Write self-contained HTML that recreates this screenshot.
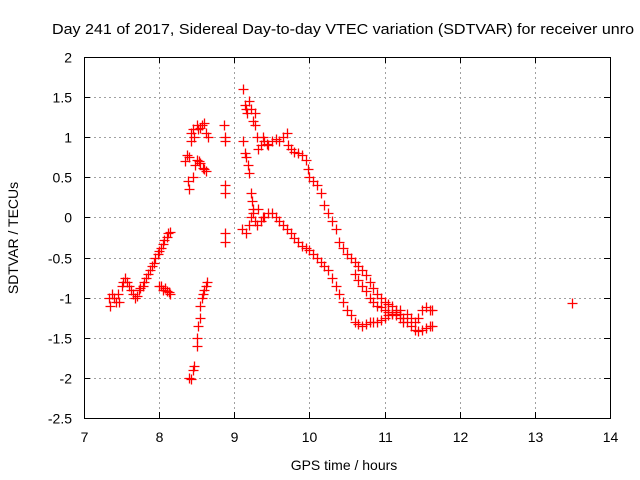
<!DOCTYPE html>
<html><head><meta charset="utf-8"><style>
body{margin:0;background:#fff}
svg{display:block;font-family:"Liberation Sans",sans-serif}
</style></head><body>
<svg id="chart" width="640" height="480">
<rect width="640" height="480" fill="#fff"/>
<text x="52" y="34" font-size="15" textLength="582" lengthAdjust="spacingAndGlyphs" fill="#000">Day 241 of 2017, Sidereal Day-to-day VTEC variation (SDTVAR) for receiver unro</text>
<g id="grid"></g>
<g id="axes"></g>
<g id="marks"></g>
<text x="344" y="470" font-size="14" text-anchor="middle">GPS time / hours</text>
<text transform="translate(18,238) rotate(-90)" font-size="14" text-anchor="middle">SDTVAR / TECUs</text>
</svg>
<script>
const xTicks=[7,8,9,10,11,12,13,14];
const yTicks=[2,1.5,1,0.5,0,-0.5,-1,-1.5,-2,-2.5];
const yTickLabels=["2","1.5","1","0.5","0","-0.5","-1","-1.5","-2","-2.5"];
const times=[7.33,7.35,7.37,7.4,7.42,7.45,7.47,7.5,7.52,7.55,7.57,7.6,7.63,7.65,7.68,7.7,7.73,7.75,7.78,7.8,7.83,7.85,7.88,7.9,7.93,7.95,7.98,8.0,8.02,8.05,8.07,8.1,8.12,8.15,
8.0,8.03,8.05,8.08,8.1,8.13,8.15,
8.4,8.42,8.45,8.47,8.5,8.51,8.52,8.54,8.55,8.57,8.58,8.6,8.62,8.64,
8.35,8.38,8.4,8.42,8.43,8.45,8.47,8.5,8.52,8.55,8.57,8.6,8.62,8.65,8.45,8.48,8.5,8.53,8.55,8.58,8.6,8.63,8.4,8.37,
8.86,8.88,8.88,8.87,8.88,8.87,8.88,
9.12,9.14,9.15,9.17,9.2,9.22,9.25,9.27,9.3,9.28,
9.12,9.14,9.16,9.18,9.2,9.22,9.23,9.25,
9.32,9.35,9.38,9.4,9.43,9.45,9.5,9.55,9.6,9.65,9.7,9.72,9.75,9.8,9.85,9.9,9.95,9.98,10.0,10.05,10.1,10.15,10.2,10.25,10.3,10.35,10.4,10.45,10.5,10.55,10.6,10.65,10.7,10.75,10.8,10.85,10.9,10.95,11.0,11.05,11.1,11.15,11.2,11.25,11.3,11.35,11.4,11.45,11.5,11.55,11.6,11.63,
10.6,10.65,10.7,10.75,10.8,10.85,10.9,10.95,11.0,11.05,11.1,11.15,11.2,11.25,11.3,11.35,11.4,11.45,11.5,11.55,11.6,11.63,
9.1,9.15,9.2,9.22,9.25,9.28,9.3,9.32,9.35,9.38,9.4,9.45,9.5,9.55,9.6,9.65,9.7,9.75,9.8,9.85,9.9,9.95,10.0,10.05,10.1,10.15,10.2,10.25,10.3,10.35,10.4,10.45,10.5,10.55,10.6,10.65,10.7,10.75,10.8,10.85,10.9,10.95,11.0,11.05,11.1,11.15,11.2,
13.5];
const values=[-1.0,-1.1,-0.95,-1.0,-1.05,-0.95,-1.05,-0.85,-0.8,-0.75,-0.8,-0.85,-0.9,-0.95,-1.0,-0.98,-0.9,-0.88,-0.85,-0.8,-0.75,-0.7,-0.65,-0.6,-0.57,-0.5,-0.45,-0.42,-0.38,-0.33,-0.28,-0.24,-0.2,-0.18,
-0.85,-0.85,-0.9,-0.88,-0.92,-0.93,-0.95,
-2.0,-2.02,-1.9,-1.85,-1.6,-1.5,-1.35,-1.25,-1.1,-1.0,-0.95,-0.9,-0.85,-0.8,
0.7,0.45,0.35,0.95,1.05,1.1,1.0,1.15,1.1,1.12,1.15,1.18,1.05,1.0,0.5,0.65,0.72,0.7,0.68,0.62,0.6,0.58,0.75,0.78,
1.15,1.0,0.95,0.4,0.3,-0.2,-0.3,
1.6,1.4,1.35,1.3,1.45,1.35,1.2,1.15,1.0,1.3,
0.95,0.8,0.75,0.65,0.55,0.3,0.2,0.1,
0.85,0.9,1.0,0.95,0.92,0.9,0.95,0.98,0.95,1.0,1.05,0.9,0.85,0.82,0.8,0.78,0.72,0.6,0.5,0.45,0.4,0.3,0.15,0.05,-0.05,-0.15,-0.3,-0.38,-0.45,-0.5,-0.55,-0.6,-0.65,-0.72,-0.8,-0.88,-0.95,-1.0,-1.05,-1.08,-1.1,-1.15,-1.2,-1.25,-1.3,-1.35,-1.4,-1.42,-1.4,-1.38,-1.35,-1.35,
-0.7,-0.78,-0.85,-0.92,-1.0,-1.05,-1.1,-1.12,-1.15,-1.18,-1.2,-1.22,-1.25,-1.3,-1.2,-1.25,-1.3,-1.25,-1.15,-1.12,-1.15,-1.15,
-0.15,-0.2,-0.1,0.0,0.05,-0.05,-0.1,0.1,-0.05,0.0,0.0,0.05,0.05,0.0,-0.05,-0.1,-0.15,-0.2,-0.25,-0.3,-0.35,-0.38,-0.4,-0.45,-0.5,-0.55,-0.6,-0.65,-0.75,-0.85,-0.95,-1.05,-1.15,-1.22,-1.3,-1.33,-1.35,-1.33,-1.3,-1.3,-1.3,-1.28,-1.25,-1.22,-1.2,-1.18,-1.15,
-1.07];
const X0=84,X1=610,Y0=418,Y1=57;
const xs=h=>X0+(h-7)/(14-7)*(X1-X0);
const ys=v=>Y0-(v+2.5)/(2-(-2.5))*(Y0-Y1);
const NS="http://www.w3.org/2000/svg";
const grid=document.getElementById('grid'),axes=document.getElementById('axes'),marks=document.getElementById('marks');
function mk(tag,attrs,parent){const e=document.createElementNS(NS,tag);for(const k in attrs)e.setAttribute(k,attrs[k]);parent.appendChild(e);return e;}
xTicks.forEach(t=>{const x=Math.round(xs(t))+0.5;
 if(t>7&&t<14){const l=mk('line',{x1:x,y1:Y1,x2:x,y2:Y0,stroke:'#a0a0a0','stroke-dasharray':'2,3'},grid);
 
 }
 mk('line',{x1:x,y1:Y0,x2:x,y2:Y0-6,stroke:'#000'},axes);
 mk('line',{x1:x,y1:Y1,x2:x,y2:Y1+6,stroke:'#000'},axes);
 const tx=mk('text',{x:x,y:Y0+24,'font-size':14,'text-anchor':'middle'},axes);tx.textContent=t;
 
 });
yTicks.forEach((t,i)=>{const y=Math.round(ys(t))+0.5;
 if(t<2&&t>-2.5){const l=mk('line',{x1:X0,y1:y,x2:X1,y2:y,stroke:'#a0a0a0','stroke-dasharray':'2,3'},grid);
 
 }
 mk('line',{x1:X0,y1:y,x2:X0+6,y2:y,stroke:'#000'},axes);
 mk('line',{x1:X1,y1:y,x2:X1-6,y2:y,stroke:'#000'},axes);
 const tx=mk('text',{x:X0-12,y:y+5,'font-size':14,'text-anchor':'end'},axes);tx.textContent=yTickLabels[i];
 
 });
const fr=mk('rect',{x:X0+0.5,y:Y1+0.5,width:X1-X0,height:Y0-Y1,fill:'none',stroke:'#000'},axes);


times.forEach((h,i)=>{const x=Math.round(xs(h))+0.5,y=Math.round(ys(values[i]))+0.5;
 const p=mk('path',{d:`M${x-5},${y}H${x+5}M${x},${y-5}V${y+5}`,stroke:'#ff0000','stroke-width':1.3,fill:'none'},marks);
 
 });
</script>
</body></html>
